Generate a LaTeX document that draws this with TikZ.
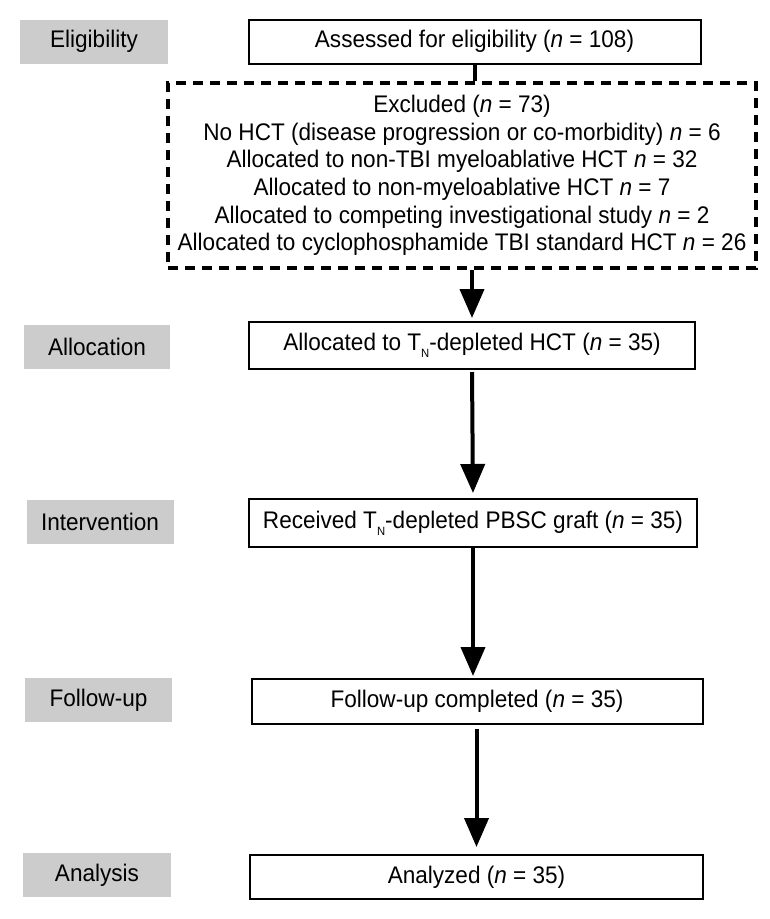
\documentclass[tikz,border=0pt]{standalone}
\usepackage{fontspec}
\setmainfont{Liberation Sans}[FakeStretch=0.94]
\usetikzlibrary{arrows.meta}
\definecolor{labelgray}{RGB}{204,204,204}
\newcommand\tnsub{T\raisebox{-0.3em}{\fontsize{12}{12}\selectfont N}}
\begin{document}
\begin{tikzpicture}[x=1pt,y=-1pt,
  txt/.style={font=\fontsize{24}{27.7}\selectfont},
  stage/.style={txt, fill=labelgray, minimum width=148pt, minimum height=44pt, inner sep=0pt},
  flowbox/.style={txt, draw, line width=2pt, minimum width=451pt, minimum height=45pt, inner sep=0pt},
  exclbox/.style={txt, draw, line width=4pt, dash pattern=on 10pt off 7pt, minimum width=588pt, minimum height=185pt, inner sep=0pt, align=center},
  arr/.style={line width=4pt, -{Triangle[width=24pt,length=29pt]}},
  stem/.style={line width=4pt}
]
\useasboundingbox (0,0) rectangle (769,919);

\node[stage] (elig) at (94,41.5) {Eligibility};
\node[flowbox, minimum width=452pt, minimum height=44pt] (assess) at (474.5,41.5) {Assessed for eligibility (\textit{n} = 108)};

\node[exclbox] (excl) at (462,175.5) {Excluded (\textit{n} = 73)\\
No HCT (disease progression or co-morbidity) \textit{n} = 6\\
Allocated to non-TBI myeloablative HCT \textit{n} = 32\\
Allocated to non-myeloablative HCT \textit{n} = 7\\
Allocated to competing investigational study \textit{n} = 2\\
Allocated to cyclophosphamide TBI standard HCT \textit{n} = 26};

\node[stage, minimum width=146pt] (allocl) at (97,347) {Allocation};
\node[flowbox, minimum width=446pt, minimum height=47pt] (alloc) at (472,345.5) {Allocated to \tnsub-depleted HCT (\textit{n} = 35)};

\node[stage, minimum width=147pt] (intervl) at (100,522) {Intervention};
\node[flowbox, minimum width=448pt, minimum height=48pt] (recv) at (473,523) {Received \tnsub-depleted PBSC graft (\textit{n} = 35)};

\node[stage, minimum width=147pt] (followl) at (98.5,700) {Follow-up};
\node[flowbox] (follow) at (477,701.5) {Follow-up completed (\textit{n} = 35)};

\node[stage] (analysisl) at (97,875) {Analysis};
\node[flowbox, minimum width=453pt, minimum height=44pt] (analysis) at (476.5,877) {Analyzed (\textit{n} = 35)};

\draw[stem] (assess.south) -- (assess.south |- excl.north);
\draw[arr, shorten >=3pt] (excl.south -| alloc.south) -- (alloc.north);
\draw[arr, shorten <=2pt, shorten >=5pt] (alloc.south) -- (recv.north);
\draw[arr, shorten >=2pt] (recv.south) -- (recv.south |- follow.north);
\draw[arr, shorten <=4pt, shorten >=7pt] (follow.south -| analysis.north) -- (analysis.north);
\end{tikzpicture}
\end{document}
